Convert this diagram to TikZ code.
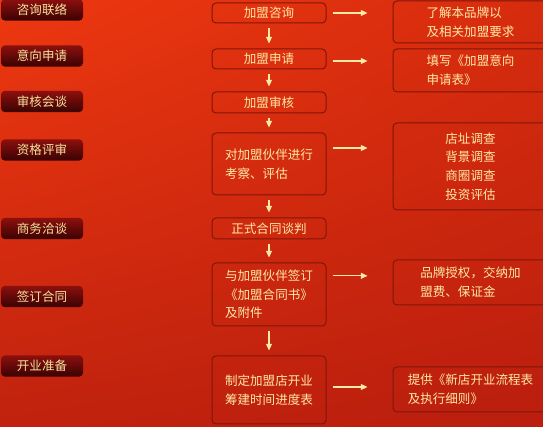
\documentclass[tikz,border=0pt]{standalone}
\usepackage{fontspec}
\setmainfont{Noto Sans CJK SC}
\usetikzlibrary{arrows.meta,shadings}
\definecolor{gold}{RGB}{255,233,165}
\definecolor{tabgold}{RGB}{246,226,158}
\definecolor{boxline}{RGB}{128,22,10}
\definecolor{tabtop}{RGB}{140,16,14}
\definecolor{tabbot}{RGB}{58,2,2}
\definecolor{bgul}{RGB}{238,56,16}
\definecolor{bgur}{RGB}{214,44,14}
\definecolor{bgll}{RGB}{192,34,14}
\definecolor{bglr}{RGB}{186,30,14}
\tikzset{
  txt/.style={font=\fontsize{9.4}{14}\selectfont},
  tab/.style={txt, rounded corners=3pt, top color=tabtop, bottom color=tabbot,
    minimum width=61.5pt, minimum height=16pt, inner sep=0pt, text=tabgold},
  stepbox/.style={txt, draw=boxline, line width=0.75pt, rounded corners=3pt,
    minimum width=85.5pt, inner sep=0pt, text=gold, align=left},
  notebox/.style={stepbox, minimum width=116.25pt},
  flow/.style={-{Triangle[length=5pt,width=4.5pt]}, gold, line width=0.8pt},
  side/.style={flow, shorten <=4.5pt, shorten >=18.75pt},
  down/.style={flow, shorten <=3.75pt, shorten >=3.75pt}
}
\begin{document}
\begin{tikzpicture}[x=0.75pt, y=-0.75pt]
  \useasboundingbox (0,0) rectangle (543,427);
  \clip (0,0) rectangle (543,427);
  \shade[upper left=bgul, upper right=bgur, lower left=bgll, lower right=bglr]
    (0,0) rectangle (543,427);
  % stages on the left
  \node[tab] (t1) at (42,10) {咨询联络};
  \node[tab] (t2) at (42,56) {意向申请};
  \node[tab] (t3) at (42,101.5) {审核会谈};
  \node[tab] (t4) at (42,150) {资格评审};
  \node[tab] (t5) at (42,228.5) {商务洽谈};
  \node[tab] (t6) at (42,296.5) {签订合同};
  \node[tab] (t7) at (42,366) {开业准备};
  % main steps
  \node[stepbox, minimum height=15pt] (m1) at (269,13) {加盟咨询};
  \node[stepbox, minimum height=15pt] (m2) at (269,59) {加盟申请};
  \node[stepbox, minimum height=15.75pt] (m3) at (269,102.5) {加盟审核};
  \node[stepbox, minimum height=46.5pt] (m4) at (269,164) {对加盟伙伴进行\\考察、评估};
  \node[stepbox, minimum height=15.75pt] (m5) at (269,228.5) {正式合同谈判};
  \node[stepbox, minimum height=47.25pt] (m6) at (269,294.5) {与加盟伙伴签订\\《加盟合同书》\\及附件};
  \node[stepbox, minimum height=51pt] (m7) at (269,390) {制定加盟店开业\\筹建时间进度表};
  % notes on the right
  \node[notebox, minimum height=31.5pt] (r1) at (470.5,22) {了解本品牌以\\及相关加盟要求};
  \node[notebox, minimum height=32.25pt] (r2) at (470.5,70.5) {填写《加盟意向\\申请表》};
  \node[notebox, minimum height=65.25pt, align=center] (r3) at (470.5,166.5) {店址调查\\背景调查\\商圈调查\\投资评估};
  \node[notebox, minimum height=33.75pt] (r4) at (470.5,282.5) {品牌授权，交纳加\\盟费、保证金};
  \node[notebox, minimum height=33.75pt] (r5) at (470.5,389.5) {提供《新店开业流程表\\及执行细则》};
  \draw[down] (m1) -- (m2);
  \draw[down] (m2) -- (m3);
  \draw[down] (m3) -- (m4);
  \draw[down] (m4) -- (m5);
  \draw[down] (m5) -- (m6);
  \draw[down] (m6) -- (m7);
  \coordinate (a1) at (m1.east);
  \coordinate (a2) at ([yshift=-1.5pt]m2.east);
  \coordinate (a4) at ([yshift=12pt]m4.east);
  \coordinate (a6) at ([yshift=14pt]m6.east);
  \coordinate (a7) at ([yshift=2.25pt]m7.east);
  \draw[side] (a1) -- (a1 -| r1.west);
  \draw[side] (a2) -- (a2 -| r2.west);
  \draw[side] (a4) -- (a4 -| r3.west);
  \draw[side] (a6) -- (a6 -| r4.west);
  \draw[side] (a7) -- (a7 -| r5.west);
\end{tikzpicture}
\end{document}
